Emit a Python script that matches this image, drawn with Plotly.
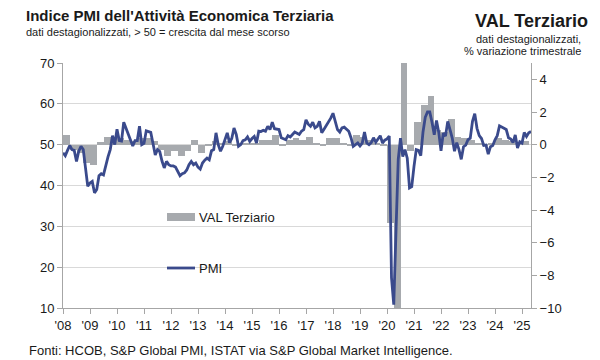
import plotly.graph_objects as go

# ---------------- data ----------------
# PMI servizi Italia, mensile, gen 2008 - mag 2025
pmi_2008 = [48.0, 47.3, 48.6, 49.8, 48.8, 48.6, 45.9, 48.4, 49.6, 48.8, 44.3, 39.8]
pmi_2009 = [40.6, 41.0, 38.2, 39.0, 42.4, 42.9, 42.6, 45.1, 47.0, 48.8, 52.2, 50.0]
pmi_2010 = [53.8, 51.0, 50.9, 55.5, 54.0, 52.5, 51.2, 49.7, 51.0, 51.0, 54.5, 50.0]
pmi_2011 = [50.3, 53.4, 53.2, 53.0, 50.3, 47.5, 48.8, 48.3, 46.0, 44.3, 45.9, 45.1]
pmi_2012 = [44.8, 44.8, 44.5, 43.5, 42.4, 42.9, 43.1, 43.8, 45.1, 45.9, 45.1, 45.5]
pmi_2013 = [44.5, 44.0, 45.5, 46.2, 46.7, 46.3, 48.5, 48.8, 52.9, 50.0, 48.4, 49.6]
pmi_2014 = [51.0, 52.9, 50.5, 51.5, 54.1, 52.5, 49.6, 50.0, 51.0, 51.2, 51.9, 50.8]
pmi_2015 = [51.5, 52.0, 50.4, 53.3, 53.2, 53.5, 53.3, 54.5, 53.7, 55.5, 53.9, 53.8]
pmi_2016 = [53.7, 51.7, 51.5, 51.2, 52.2, 51.9, 52.5, 53.1, 52.8, 52.5, 53.3, 53.7]
pmi_2017 = [56.1, 55.0, 54.5, 55.5, 54.1, 54.5, 55.7, 52.9, 53.8, 54.7, 55.5, 56.5]
pmi_2018 = [57.7, 55.7, 53.7, 53.1, 54.1, 54.3, 53.7, 53.3, 51.7, 49.6, 50.0, 50.4]
pmi_2019 = [49.7, 50.4, 53.1, 50.4, 50.0, 50.5, 51.7, 50.6, 51.4, 52.2, 50.4, 51.1]
pmi_2020 = [51.4, 52.1, 17.4, 10.8, 28.9, 46.4, 51.6, 47.1, 48.8, 46.7, 39.4, 39.7]
pmi_2021 = [44.7, 48.8, 48.6, 47.3, 53.1, 56.7, 58.0, 58.0, 55.5, 52.4, 55.9, 53.0]
pmi_2022 = [48.5, 52.8, 52.1, 55.7, 53.7, 51.6, 48.4, 50.5, 48.8, 46.4, 49.5, 49.9]
pmi_2023 = [51.2, 51.6, 55.7, 57.6, 54.0, 52.2, 51.5, 49.8, 49.9, 47.7, 49.5, 49.8]
pmi_2024 = [51.2, 52.2, 54.6, 54.3, 54.2, 53.7, 51.7, 51.4, 50.5, 52.4, 49.2, 50.7]
pmi_2025 = [50.4, 53.0, 52.0, 52.9, 53.2]

# VAL Terziario, % variazione trimestrale, Q1 2008 - Q1 2025
val_2008 = [0.6, -0.3, -0.5, -1.1]
val_2009 = [-1.25, 0.15, 0.5, 0.5]
val_2010 = [0.4, 0.3, 0.2, 0.4]
val_2011 = [0.4, 0.2, -0.3, -0.7]
val_2012 = [-0.4, -0.7, -0.4, 0.3]
val_2013 = [-0.5, -0.1, 0.2, 0.1]
val_2014 = [0.2, -0.1, 0.1, 0.05]
val_2015 = [0.1, 0.3, 0.3, 0.6]
val_2016 = [-0.1, 0.3, 0.4, 0.3]
val_2017 = [0.5, 0.1, -0.1, 0.4]
val_2018 = [0.4, 0.1, -0.1, 0.6]
val_2019 = [0.45, 0.3, 0.1, -0.1]
val_2020 = [-4.8, -10.5, 11.5, -0.4]
val_2021 = [1.4, 2.45, 3.0, 0.9]
val_2022 = [0.8, 1.6, 0.5, 0.4]
val_2023 = [0.3, 0.05, -0.1, 0.1]
val_2024 = [0.4, 0.3, 0.2, 0.1]
val_2025 = [0.2]

tick_years = list(range(2008, 2026))
tick_labels = ["'08", "'09", "'10", "'11", "'12", "'13", "'14", "'15", "'16",
               "'17", "'18", "'19", "'20", "'21", "'22", "'23", "'24", "'25"]

pmi = (pmi_2008 + pmi_2009 + pmi_2010 + pmi_2011 + pmi_2012 + pmi_2013 + pmi_2014 +
       pmi_2015 + pmi_2016 + pmi_2017 + pmi_2018 + pmi_2019 + pmi_2020 + pmi_2021 +
       pmi_2022 + pmi_2023 + pmi_2024 + pmi_2025)
val = (val_2008 + val_2009 + val_2010 + val_2011 + val_2012 + val_2013 + val_2014 +
       val_2015 + val_2016 + val_2017 + val_2018 + val_2019 + val_2020 + val_2021 +
       val_2022 + val_2023 + val_2024 + val_2025)

pmi_x = [2008 + i / 12 for i in range(len(pmi))]
val_x = [2008 + (i + 0.5) / 4 for i in range(len(val))]

# ---------------- style ----------------
FONT = "Liberation Sans, Arial, sans-serif"
BAR_C = "#A7AAAE"
LINE_C = "#3A4A8C"
AXIS_C = "#A6A6A6"
GRID_C = "#D9D9D9"
TXT_C = "#1A1A1A"

fig = go.Figure()
fig.add_trace(go.Bar(x=val_x, y=val, yaxis="y", width=0.25,
                     marker=dict(color=BAR_C, line=dict(width=0)),
                     name="VAL Terziario", showlegend=False, hoverinfo="skip"))
fig.add_trace(go.Scatter(x=pmi_x, y=pmi, yaxis="y2", mode="lines",
                         line=dict(color=LINE_C, width=2.8),
                         name="PMI", showlegend=False, hoverinfo="skip"))

L, R, T, B = 63, 69, 63, 52
W, H = 600, 360
PW, PH = W - L - R, H - T - B


def px(xp):
    return (xp - L) / PW


def py(yp):
    return (H - B - yp) / PH


fig.update_layout(
    width=W, height=H,
    margin=dict(l=L, r=R, t=T, b=B),
    paper_bgcolor="white", plot_bgcolor="white",
    font=dict(family=FONT, size=13, color=TXT_C),
    bargap=0,
    xaxis=dict(range=[2008, 2025 + 4 / 12], tickvals=tick_years, ticktext=tick_labels,
               showgrid=False, zeroline=False, showline=True, linecolor=AXIS_C,
               linewidth=1, ticks="outside", ticklen=5, tickcolor=AXIS_C,
               tickfont=dict(size=13, color=TXT_C)),
    yaxis=dict(side="right", range=[-10, 5], tickvals=list(range(-10, 5, 2)),
               showgrid=False, zeroline=False, showline=True, linecolor=AXIS_C,
               linewidth=1, ticks="outside", ticklen=5, tickcolor=AXIS_C,
               tickfont=dict(size=13, color=TXT_C)),
    yaxis2=dict(overlaying="y", side="left", range=[10, 70], dtick=10,
                showgrid=True, gridcolor=GRID_C, gridwidth=1, zeroline=False,
                showline=True, linecolor=AXIS_C, linewidth=1, ticks="outside",
                ticklen=5, tickcolor=AXIS_C, tickfont=dict(size=13, color=TXT_C)),
)

ann = []
ann.append(dict(text="<b>Indice PMI dell'Attività Economica Terziaria</b>",
                x=px(24), y=py(15), xanchor="left", yanchor="middle",
                font=dict(size=15)))
ann.append(dict(text="dati destagionalizzati, > 50 = crescita dal mese scorso",
                x=px(24), y=py(32), xanchor="left", yanchor="middle",
                font=dict(size=11)))
ann.append(dict(text="<b>VAL Terziario</b>", x=px(590), y=py(21), xanchor="right",
                yanchor="middle", font=dict(size=18)))
ann.append(dict(text="dati destagionalizzati,", x=px(583), y=py(39), xanchor="right",
                yanchor="middle", font=dict(size=11)))
ann.append(dict(text="% variazione trimestrale", x=px(583), y=py(51), xanchor="right",
                yanchor="middle", font=dict(size=11)))
ann.append(dict(text="Fonti: HCOB, S&P Global PMI, ISTAT via S&P Global Market Intelligence.",
                x=px(27), y=py(350), xanchor="left", yanchor="middle",
                font=dict(size=13)))
ann.append(dict(text="VAL Terziario", x=px(197), y=py(217), xanchor="left",
                yanchor="middle", font=dict(size=13)))
ann.append(dict(text="PMI", x=px(197), y=py(268), xanchor="left",
                yanchor="middle", font=dict(size=13)))
for a in ann:
    a.update(xref="paper", yref="paper", showarrow=False)
fig.update_layout(annotations=ann)

fig.add_shape(type="rect", xref="paper", yref="paper",
              x0=px(167), x1=px(195), y0=py(221), y1=py(213),
              fillcolor=BAR_C, line=dict(width=0))
fig.add_shape(type="line", xref="paper", yref="paper",
              x0=px(167), x1=px(195), y0=py(268), y1=py(268),
              line=dict(color=LINE_C, width=2.8))

fig.write_html("out.html", config={"displayModeBar": False},
               post_script="document.body.style.margin='0';document.body.style.overflow='hidden';")
